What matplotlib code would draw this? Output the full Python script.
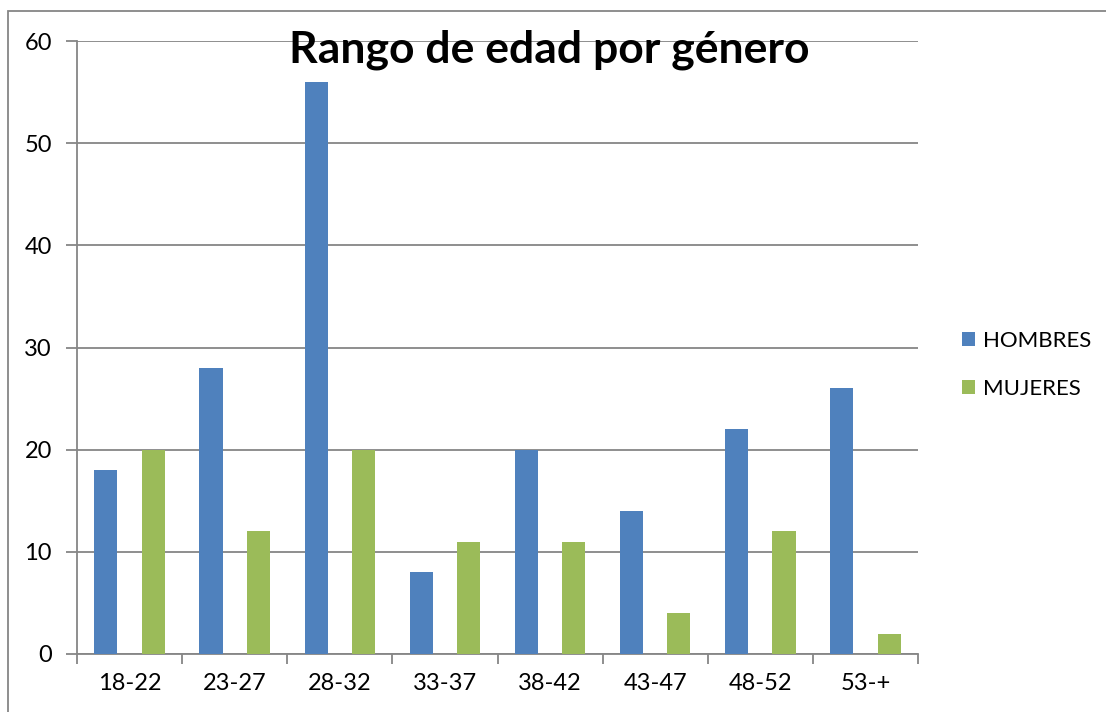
import numpy as np
import matplotlib.pyplot as plt
from matplotlib.patches import Rectangle

plt.rcParams['font.family'] = ['Lato', 'DejaVu Sans']

categorias = ["18-22", "23-27", "28-32", "33-37", "38-42", "43-47", "48-52", "53-+"]
hombres = [18, 28, 56, 8, 20, 14, 22, 26]
mujeres = [20, 12, 20, 11, 11, 4, 12, 2]

AZUL = "#4f81bd"
VERDE = "#9bbb59"
GRIS = "#868686"

fig = plt.figure(figsize=(11.06, 7.12), dpi=100)
ax = fig.add_axes([77 / 1106, 1 - 654 / 712, (918 - 77) / 1106, (654 - 41) / 712])

x = np.arange(len(categorias))
ancho = 0.22
ax.bar(x - 0.225, hombres, ancho, color=AZUL, label="HOMBRES", zorder=3)
ax.bar(x + 0.225, mujeres, ancho, color=VERDE, label="MUJERES", zorder=3)

ax.set_xlim(-0.5, len(categorias) - 0.5)
ax.set_ylim(0, 60)
ax.set_yticks(range(0, 61, 10))
ax.set_xticks(x)
ax.set_xticklabels(categorias)
ax.set_xticks(np.arange(-0.5, len(categorias)), minor=True)
ax.tick_params(axis="x", which="major", length=0, pad=14, labelsize=17)
ax.tick_params(axis="x", which="minor", length=7, color=GRIS, width=1.3)
ax.tick_params(axis="y", length=8, color=GRIS, width=1.3, pad=10, labelsize=17)

ax.yaxis.grid(True, color=GRIS, linewidth=1.3, zorder=0)
ax.set_axisbelow(True)
for lado in ["top", "right"]:
    ax.spines[lado].set_visible(False)
for lado in ["left", "bottom"]:
    ax.spines[lado].set_color(GRIS)
    ax.spines[lado].set_linewidth(1.3)

fig.text(549 / 1106, 1 - 50 / 712, "Rango de edad por género", ha="center", va="center",
         fontsize=32, fontweight="bold")

fig.legend(loc="center left", bbox_to_anchor=(942 / 1106, 1 - 365 / 712), frameon=False,
           fontsize=16, handlelength=0.6, handleheight=0.6, handletextpad=0.35,
           labelspacing=1.25)

# borde del area del grafico
fig.patches.append(Rectangle((8 / 1106, -0.1), 1.2, 1 - 11 / 712 + 0.1, transform=fig.transFigure,
                             fill=False, edgecolor=GRIS, linewidth=1.3))

fig.savefig("out.png", dpi=100)
